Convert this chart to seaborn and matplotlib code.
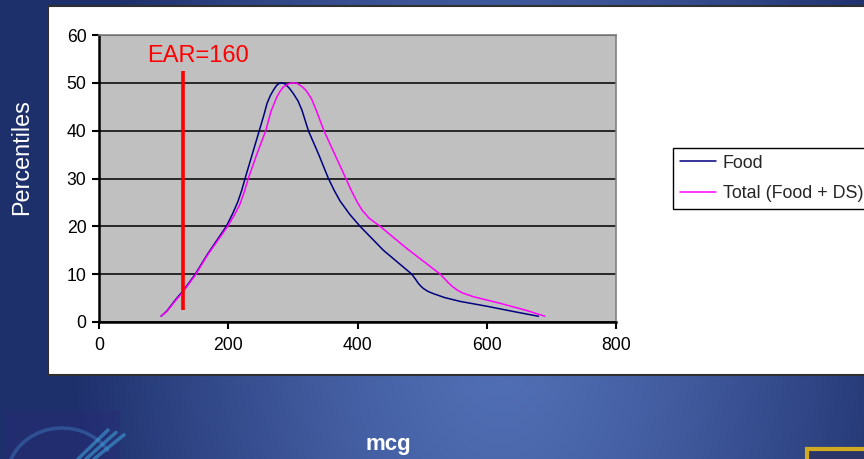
import numpy as np
import pandas as pd
import matplotlib
matplotlib.use("Agg")
import matplotlib.pyplot as plt
import seaborn as sns
from matplotlib.patches import Rectangle, Arc

# ---------------- data ----------------
food_x = [96, 105, 118, 130, 149, 167, 197, 207, 215, 221, 226, 237, 248, 255, 260, 265, 270, 275, 279,
          282, 286, 290, 295, 301, 308, 314, 324, 340, 355, 364, 373, 388, 404, 440, 484, 490, 494, 498,
          502, 509, 518, 535, 559, 600, 641, 680]
food_y = [1.2, 2.3, 4.6, 6.5, 10, 14, 20, 22.7, 25.2, 27.6, 30, 35, 40, 43.2, 45.7, 47.3, 48.5, 49.5, 49.9,
          50, 49.9, 49.5, 48.8, 47.7, 46.2, 44.3, 40, 35, 30, 27.5, 25.3, 22.5, 20, 15, 10, 8.9, 8.1, 7.5,
          7.0, 6.4, 5.9, 5.1, 4.3, 3.3, 2.2, 1.2]

total_x = [96, 105, 118, 130, 149, 167, 199, 210, 218, 225, 231, 244, 258, 266, 275, 280, 285, 292, 296,
           301, 306, 311, 316, 321, 329, 336, 348, 365, 382, 390, 399, 407, 418, 435, 476, 528, 540,
           547, 554, 562, 579, 600, 621, 662, 690]
total_y = [1.2, 2.2, 4.4, 6.3, 9.8, 13.8, 20, 22.5, 24.6, 27.3, 30, 35, 40, 44, 47, 48.2, 49.1, 49.7, 49.9,
           50, 49.9, 49.5, 49.0, 48.3, 46.6, 44.3, 40, 35, 30, 27.6, 25.2, 23.4, 21.7, 20, 15.4, 10, 8.3,
           7.4, 6.7, 6.1, 5.3, 4.6, 3.9, 2.4, 1.2]

series_names = ["Food", "Total (Food + DS)"]
ear_label = "EAR=160"
ear_line_x = 130
ear_line_ymin, ear_line_ymax = 2.5, 52.4
x_ticks = [0, 200, 400, 600, 800]
y_ticks = [0, 10, 20, 30, 40, 50, 60]
y_label = "Percentiles"
x_label = "mcg"

df = pd.concat([
    pd.DataFrame({"mcg": food_x, "pct": food_y, "series": series_names[0]}),
    pd.DataFrame({"mcg": total_x, "pct": total_y, "series": series_names[1]}),
], ignore_index=True)

# ---------------- figure ----------------
sns.set_style("white")
plt.rcParams["font.family"] = ["Liberation Sans", "DejaVu Sans"]

W, H = 864, 459
fig = plt.figure(figsize=(W / 100, H / 100), dpi=100)

# slide background (blue gradient)
bg = fig.add_axes([0, 0, 1, 1])
bg.set_axis_off()
xx, yy = np.meshgrid(np.arange(W), np.arange(H))
d = np.sqrt(((xx - 500) / 430.0) ** 2 + ((yy - 330) / 700.0) ** 2)
d = np.clip(d, 0, 1) ** 1.3
light = np.array([82, 112, 182]) / 255.0
dark = np.array([30, 48, 108]) / 255.0
img = light[None, None, :] * (1 - d[..., None]) + dark[None, None, :] * d[..., None]
bg.imshow(img, extent=[0, W, H, 0], aspect="auto", zorder=0)
bg.set_xlim(0, W)
bg.set_ylim(H, 0)

# decorative logos (faint)
bg.add_patch(Rectangle((5, 410), 115, 60, facecolor="#2a2878", edgecolor="none", alpha=0.35, zorder=1))
bg.add_patch(Arc((62, 478), 110, 100, theta1=185, theta2=330, color="#3f7fc0", lw=2.5, alpha=0.45, zorder=2))
for off in (0, 8, 16):
    bg.plot([78 + off, 108 + off], [459, 430 + off * 0.3], color="#3fa8e0", lw=2.5, alpha=0.55, zorder=2,
            solid_capstyle="round")
bg.add_patch(Rectangle((807, 449), 70, 20, facecolor="#2b3568", edgecolor="#d0aa20", lw=3, zorder=2))

# white chart panel
bg.add_patch(Rectangle((48, 6), 830, 369, facecolor="white", edgecolor="#303030", lw=1.5, zorder=3))

# ---------------- plot area ----------------
x0p, x1p, y0p, y1p = 99, 616, 322, 35
ax = fig.add_axes([x0p / W, 1 - y0p / H, (x1p - x0p) / W, (y0p - y1p) / H])
ax.set_facecolor("#C0C0C0")

sns.lineplot(data=df, x="mcg", y="pct", hue="series", palette=["#000080", "#FF00FF"],
             sort=False, estimator=None, linewidth=1.1, ax=ax, legend=True)

ax.vlines(ear_line_x, ear_line_ymin, ear_line_ymax, color="#FF0000", lw=2.6, zorder=5)
ax.text(74, 54.3, ear_label, color="#FF0000", fontsize=17, va="baseline", ha="left")

ax.set_xlim(0, 800)
ax.set_ylim(0, 60)
ax.set_xticks(x_ticks)
ax.set_yticks(y_ticks)
ax.set_xticklabels([str(v) for v in x_ticks])
ax.set_yticklabels([str(v) for v in y_ticks])
ax.yaxis.grid(True, color="black", lw=1.1)
ax.xaxis.grid(False)
ax.set_axisbelow(True)
ax.tick_params(axis="both", which="major", direction="out", length=5, width=1.5,
               color="black", labelsize=12.7, labelcolor="black")
ax.tick_params(axis="x", pad=6)
ax.tick_params(axis="y", pad=4)
ax.tick_params(bottom=True, left=True)
for s in ("left", "bottom"):
    ax.spines[s].set_color("black")
    ax.spines[s].set_linewidth(1.8)
for s in ("top", "right"):
    ax.spines[s].set_color("#808080")
    ax.spines[s].set_linewidth(1.2)
ax.set_xlabel("")
ax.set_ylabel("")

handles, labels = ax.get_legend_handles_labels()
ax.get_legend().remove()
leg = fig.legend(handles, labels, loc="upper left", bbox_to_anchor=(673 / W, 1 - 147.7 / H),
                 frameon=True, fancybox=False, fontsize=12.9, handlelength=2.0,
                 handletextpad=0.4, labelspacing=0.75, borderpad=0.38, borderaxespad=0)
leg.get_frame().set_edgecolor("black")
leg.get_frame().set_linewidth(1.0)
leg.get_frame().set_facecolor("white")
leg.get_frame().set_alpha(1)
leg.set_zorder(10)

fig.text(22 / W, 1 - 157 / H, y_label, rotation=90, color="white", fontsize=16.8,
         ha="center", va="center")
fig.text(388 / W, 1 - 450 / H, x_label, color="white", fontsize=16, fontweight="bold",
         ha="center", va="baseline")

fig.savefig("out.png", dpi=100)
